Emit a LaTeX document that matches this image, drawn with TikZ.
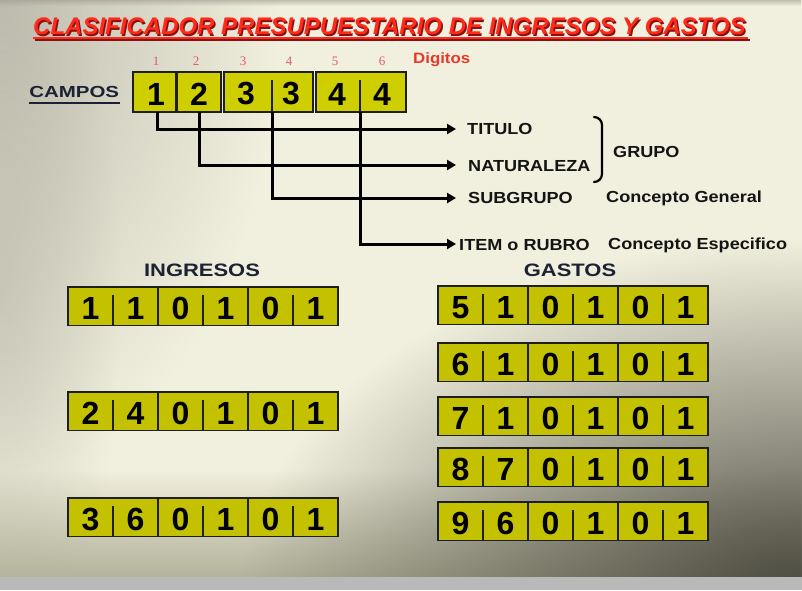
\documentclass[tikz,border=0pt]{standalone}
\usepackage{fontspec}
\setmainfont{Liberation Sans}
\newfontfamily\numserif{Liberation Serif}
\usetikzlibrary{arrows.meta,fadings,calc}
\definecolor{bgbase}{HTML}{F1EFDD}
\definecolor{bgdark}{HTML}{4A493E}
\definecolor{bggrey}{HTML}{9E9E92}
\definecolor{bgbottom}{HTML}{B4B39C}
\definecolor{boxtop}{HTML}{CFCF00}
\definecolor{boxrow}{HTML}{C4C100}
\definecolor{edge}{HTML}{1E1E1A}
\definecolor{titlered}{HTML}{FF2A1A}
\definecolor{titleshadow}{HTML}{8A1010}
\definecolor{digred}{HTML}{E8382C}
\definecolor{numpink}{HTML}{E8567A}
\definecolor{navy}{HTML}{1C2233}
\definecolor{labelink}{HTML}{141414}
\definecolor{strip}{HTML}{B9B9B9}
\tikzfading[name=radialfade, inner color=transparent!0, outer color=transparent!100]
\newcommand{\setfs}[1]{\fontsize{#1}{#1}\selectfont}
\newcommand{\coderow}[9]{%
  \node[seg, anchor=north west] (#1a) at (#2,#3) {};
  \node[seg, anchor=north west] (#1b) at (#2+90,#3) {};
  \node[seg, anchor=north west] (#1c) at (#2+180,#3) {};
  \draw[divl] ($(#1a.north)+(0,8)$) -- (#1a.south);
  \draw[divl] ($(#1b.north)+(0,8)$) -- (#1b.south);
  \draw[divl] ($(#1c.north)+(0,8)$) -- (#1c.south);
  \node[dig] (#1d1) at ($(#1a.center)+(-22.5,2)$) {#4};
  \node[dig] (#1d2) at ($(#1a.center)+(22.5,2)$) {#5};
  \node[dig] (#1d3) at ($(#1b.center)+(-22.5,2)$) {#6};
  \node[dig] (#1d4) at ($(#1b.center)+(22.5,2)$) {#7};
  \node[dig] (#1d5) at ($(#1c.center)+(-22.5,2)$) {#8};
  \node[dig] (#1d6) at ($(#1c.center)+(22.5,2)$) {#9};
}
\begin{document}
\begin{tikzpicture}[x=1pt,y=-1pt,
  seg/.style={draw=edge, line width=1.8pt, fill=boxrow, minimum width=90pt, minimum height=38.5pt, inner sep=0pt, outer sep=0pt},
  topbox/.style={draw=edge, line width=1.8pt, fill=boxtop, minimum height=40pt, inner sep=0pt, outer sep=0pt},
  divl/.style={draw=edge, line width=1.4pt},
  dig/.style={inner sep=0pt, font=\setfs{32}\bfseries, text=black},
  lbl/.style={inner sep=0pt, anchor=west, font=\setfs{16}\bfseries, text=labelink, xscale=1.13},
  headtxt/.style={inner sep=0pt, font=\setfs{18}\bfseries, text=navy, xscale=1.22},
  posnum/.style={inner sep=0pt, font=\numserif\setfs{13}, text=numpink},
  conn/.style={draw=black, line width=3pt, -{Triangle[length=9pt,width=10pt]}},
  titletext/.style={inner sep=0pt, anchor=west, font=\setfs{24}\bfseries\itshape}]
\useasboundingbox (0,0) rectangle (802,590);
% background
\fill[bgbase] (0,0) rectangle (802,577);
\begin{scope}
  \clip (0,0) rectangle (802,577);
  \fill[bggrey, path fading=radialfade, fill opacity=0.6] (0,0) ellipse (280pt and 470pt);
  \fill[bggrey, path fading=radialfade, fill opacity=0.35] (0,300) ellipse (120pt and 400pt);
  \fill[bgbottom, path fading=north] (0,470) rectangle (802,577);
  \fill[bgdark, path fading=radialfade] (802,600) ellipse (560pt and 360pt);
  \fill[bggrey, path fading=south, fill opacity=0.6] (0,0) rectangle (802,6);
\end{scope}
\fill[strip] (0,577) rectangle (802,590);
% title
\node[titletext, text=titleshadow] (titleshade) at (34.5,28) {CLASIFICADOR PRESUPUESTARIO DE INGRESOS Y GASTOS};
\node[titletext, text=titlered] (title) at (33,26.5) {CLASIFICADOR PRESUPUESTARIO DE INGRESOS Y GASTOS};
\draw[titleshadow, line width=2pt] (34.5,39.5) -- (749.5,39.5);
\draw[titlered, line width=2pt] (33,38) -- (748,38);
% digit positions
\node[posnum] (p1) at (156,61) {1};
\node[posnum] (p2) at (196,61) {2};
\node[posnum] (p3) at (243,61) {3};
\node[posnum] (p4) at (289,61) {4};
\node[posnum] (p5) at (335,61) {5};
\node[posnum] (p6) at (382,61) {6};
\node[inner sep=0pt, anchor=west, font=\setfs{15}\bfseries, text=digred, xscale=1.12] (digitos) at (413,60) {Digitos};
% CAMPOS
\node[inner sep=0pt, anchor=west, font=\setfs{16}\bfseries, text=navy, xscale=1.28] (campos) at (29,92) {CAMPOS};
\draw[navy, line width=2pt] (29,103) -- (120,103);
\node[topbox, anchor=north west, minimum width=43pt] (c1) at (133,72) {};
\node[topbox, anchor=north west, minimum width=44pt] (c2) at (177,72) {};
\node[topbox, anchor=north west, minimum width=89pt] (c34) at (224,72) {};
\node[topbox, anchor=north west, minimum width=90pt] (c56) at (316,72) {};
\coordinate (v1) at (157,112);
\coordinate (v2) at (199,112);
\coordinate (v3) at (272,112);
\coordinate (v4) at (360,112);
\draw[divl] (272,80) -- (v3);
\draw[divl] (360,80) -- (v4);
\node[dig] (cd1) at (156,94) {1};
\node[dig] (cd2) at (199,94) {2};
\node[dig] (cd3) at (246,94) {3};
\node[dig] (cd4) at (291,94) {3};
\node[dig] (cd5) at (337,94) {4};
\node[dig] (cd6) at (382,94) {4};
% connectors
\coordinate (t1) at (456,129);
\coordinate (t2) at (456,165);
\coordinate (t3) at (456,198);
\coordinate (t4) at (456,244);
\draw[conn] (v1) |- (t1);
\draw[conn] (v2) |- (t2);
\draw[conn] (v3) |- (t3);
\draw[conn] (v4) |- (t4);
\node[lbl] (titulo) at (467,129) {TITULO};
\node[lbl] (natur) at (468,166) {NATURALEZA};
\node[lbl] (subg) at (468,198) {SUBGRUPO};
\node[lbl] (item) at (459,245) {ITEM o RUBRO};
\node[lbl] (cgen) at (606,198) {Concepto General};
\node[lbl] (cesp) at (608,245) {Concepto Especifico};
\node[lbl] (grupo) at (613,152) {GRUPO};
% bracket
\coordinate (bt) at (594,117);
\coordinate (bb) at (594,182);
\draw[black, line width=2.2pt, line cap=round] (bt) to[out=0,in=90] (602,125) -- (602,174) to[out=-90,in=0] (bb);
% headings
\node[headtxt] (ing) at (202,270) {INGRESOS};
\node[headtxt] (gas) at (570,270) {GASTOS};
% rows
\coderow{i1}{68}{287}{1}{1}{0}{1}{0}{1}
\coderow{i2}{68}{392}{2}{4}{0}{1}{0}{1}
\coderow{i3}{68}{498}{3}{6}{0}{1}{0}{1}
\coderow{g1}{438}{286}{5}{1}{0}{1}{0}{1}
\coderow{g2}{438}{343}{6}{1}{0}{1}{0}{1}
\coderow{g3}{438}{397}{7}{1}{0}{1}{0}{1}
\coderow{g4}{438}{448}{8}{7}{0}{1}{0}{1}
\coderow{g5}{438}{502}{9}{6}{0}{1}{0}{1}
\end{tikzpicture}
\end{document}
